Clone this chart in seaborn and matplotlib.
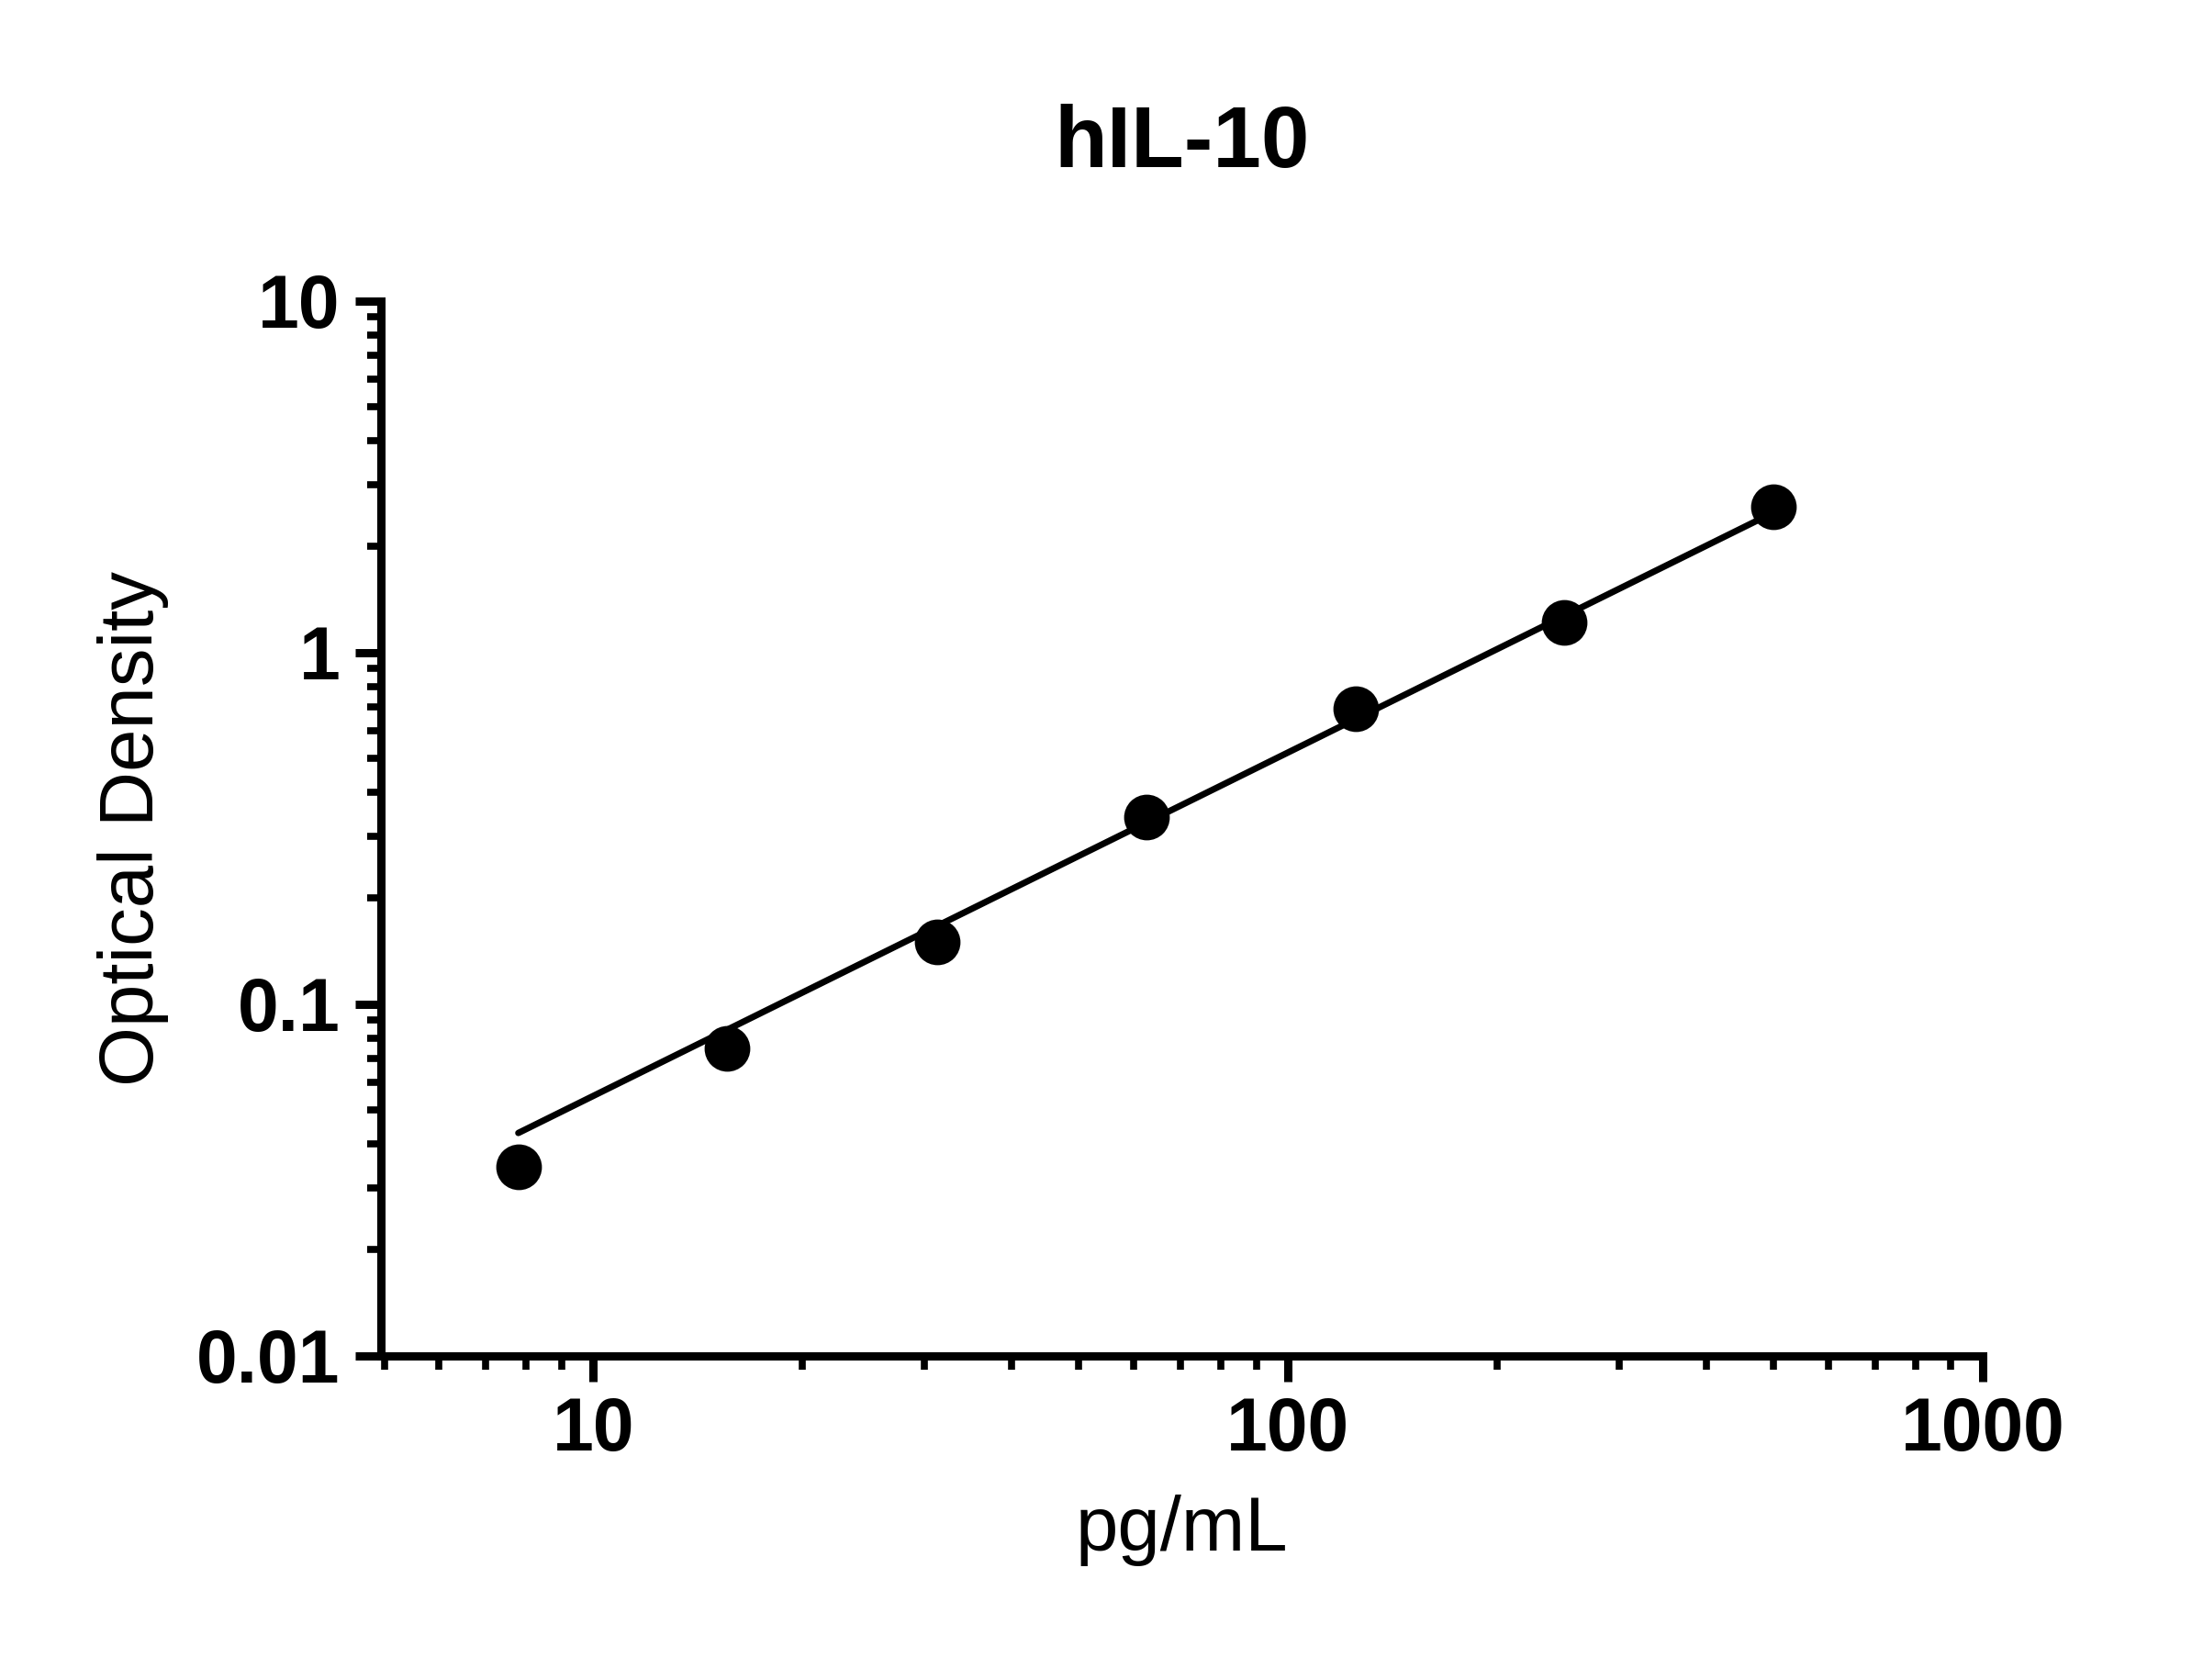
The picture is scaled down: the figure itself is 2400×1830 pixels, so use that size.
import matplotlib
matplotlib.use("Agg")
import matplotlib.pyplot as plt
import seaborn as sns
from matplotlib.ticker import LogLocator, FixedLocator, FixedFormatter, NullFormatter

conc = [7.8, 15.6, 31.25, 62.5, 125, 250, 500]
od = [0.0344, 0.075, 0.15, 0.34, 0.69, 1.22, 2.6]
fit_x = [7.8, 500]
fit_y = [0.043, 2.5]
xticks = [10, 100, 1000]
xticklabels = ["10", "100", "1000"]
yticks = [0.01, 0.1, 1, 10]
yticklabels = ["0.01", "0.1", "1", "10"]

sns.set_style("ticks")
plt.rcParams['font.family'] = ['Liberation Sans', 'DejaVu Sans']
plt.rcParams['text.color'] = 'black'
plt.rcParams['axes.labelcolor'] = 'black'
plt.rcParams['xtick.color'] = 'black'
plt.rcParams['ytick.color'] = 'black'

fig = plt.figure(figsize=(24, 18.3), dpi=100)
ax = fig.add_axes([0.173, 0.193, 0.727, 0.628])

sns.lineplot(x=fit_x, y=fit_y, ax=ax, color="black", linewidth=5)
sns.scatterplot(x=conc, y=od, ax=ax, color="black", s=1100, edgecolor="black", zorder=3)

ax.set_xscale("log")
ax.set_yscale("log")
ax.set_xlim(4.95, 1000)
ax.set_ylim(0.01, 10)
ax.xaxis.set_major_locator(FixedLocator(xticks))
ax.xaxis.set_major_formatter(FixedFormatter(xticklabels))
ax.yaxis.set_major_locator(FixedLocator(yticks))
ax.yaxis.set_major_formatter(FixedFormatter(yticklabels))
ax.xaxis.set_minor_locator(LogLocator(base=10, subs=range(2, 10)))
ax.yaxis.set_minor_locator(LogLocator(base=10, subs=range(2, 10)))
ax.xaxis.set_minor_formatter(NullFormatter())
ax.yaxis.set_minor_formatter(NullFormatter())

for s in ["top", "right"]:
    ax.spines[s].set_visible(False)
for s in ["left", "bottom"]:
    ax.spines[s].set_linewidth(6.5)
    ax.spines[s].set_color("black")

ax.tick_params(which="major", length=20, width=6.5, labelsize=58, pad=12, direction="out")
ax.tick_params(which="minor", length=11, width=5.5, direction="out")
for lab in ax.get_xticklabels() + ax.get_yticklabels():
    lab.set_fontweight("bold")

ax.set_xlabel("pg/mL", fontsize=60, labelpad=22)
ax.set_ylabel("Optical Density", fontsize=60, labelpad=22)
ax.set_title("hIL-10", fontsize=68, fontweight="bold", pad=105)

fig.savefig("out.png", dpi=100, facecolor="white")
